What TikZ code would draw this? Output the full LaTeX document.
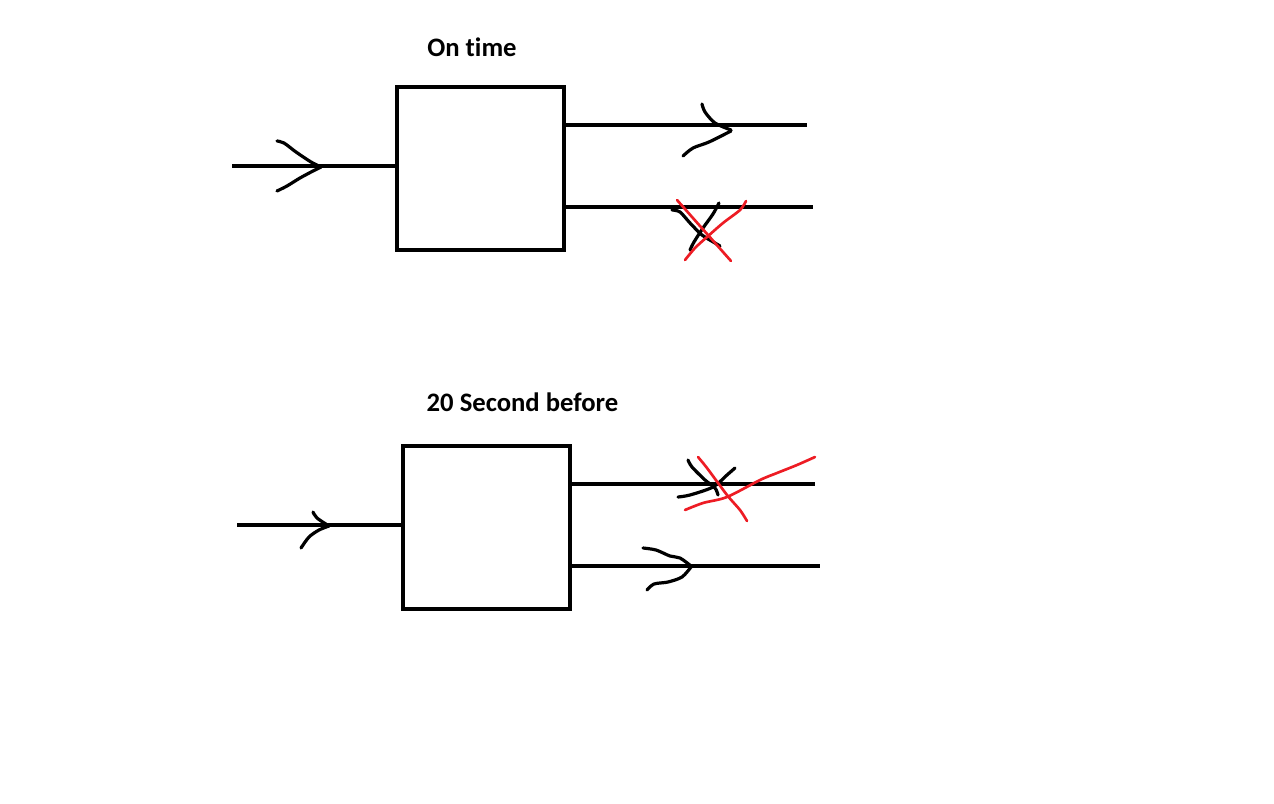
\documentclass[tikz,border=0pt]{standalone}
\usepackage{fontspec}
\setmainfont{Carlito}[Ligatures=NoCommon]
\definecolor{paintred}{RGB}{237,28,36}
\begin{document}
\begin{tikzpicture}[x=0.75pt,y=-0.75pt,
  wire/.style={line width=3.4pt},
  boxst/.style={draw, line width=3.4pt, minimum width=125.25pt, minimum height=122.25pt, inner sep=0pt, outer sep=0pt},
  chev/.style={line width=2.4pt, line cap=round, line join=round},
  cross/.style={paintred, line width=2pt, line cap=round, line join=round},
  title/.style={font=\bfseries\fontsize{20}{24}\selectfont, anchor=base, inner sep=0pt}]
\useasboundingbox (0,0) rectangle (1274,803);
% ---------- top diagram ----------
\node[title] (t1) at (472,56.5) {On time};
\node[boxst] (b1) at (480.5,168.5) {};
\coordinate (i1) at (232,166);
\coordinate (o1a) at (807,125);
\coordinate (o1b) at (813,207);
\draw[wire] (i1) -- (i1 -| b1.west);
\draw[wire] (o1a -| b1.east) -- (o1a);
\draw[wire] (o1b -| b1.east) -- (o1b);
% input chevron
\draw[chev] plot[smooth] coordinates {(277,141) (284,143) (296,152) (311,162) (321,167)};
\draw[chev] plot[smooth] coordinates {(277,191) (287,186) (300,178) (313,171) (321,167)};
% output 1 chevron
\draw[chev] plot[smooth] coordinates {(702,104) (705,112) (715,123) (731,130)};
\draw[chev] plot[smooth] coordinates {(683,156) (693,148) (709,142) (731,131)};
% output 2 crossed chevron
\draw[chev] plot[smooth] coordinates {(672,210) (680,212) (690,223) (702,235) (715,243) (720,246)};
\draw[chev] plot[smooth] coordinates {(719,203) (713,214) (703,228) (694,242) (690,250)};
\draw[cross] plot[smooth] coordinates {(677,200) (700,226) (731,261)};
\draw[cross] plot[smooth] coordinates {(746,201) (740,210) (723,223) (707,237) (695,248) (685,260)};
% ---------- bottom diagram ----------
\node[title] (t2) at (522.5,411.5) {20 Second before};
\node[boxst] (b2) at (486.5,527.5) {};
\coordinate (i2) at (237,525);
\coordinate (o2a) at (815,484);
\coordinate (o2b) at (820,566);
\draw[wire] (i2) -- (i2 -| b2.west);
\draw[wire] (o2a -| b2.east) -- (o2a);
\draw[wire] (o2b -| b2.east) -- (o2b);
% input chevron
\draw[chev] plot[smooth] coordinates {(313,512) (317,518) (329,526)};
\draw[chev] plot[smooth] coordinates {(301,548) (309,537) (319,530) (329,526)};
% output 1 crossed chevron
\draw[chev] plot[smooth] coordinates {(688,460) (692,467) (705,480) (715,488) (718,495)};
\draw[chev] plot[smooth] coordinates {(678,497) (690,495) (713,487) (727,475) (735,468)};
\draw[cross] plot[smooth] coordinates {(698,457) (707,468) (727,495) (740,510) (747,521)};
\draw[cross] plot[smooth] coordinates {(685,510) (703,503) (727,497) (760,480) (777,473) (797,465) (815,457)};
% output 2 chevron
\draw[chev] plot[smooth] coordinates {(643,548) (656,550) (670,556) (680,558) (691,566)};
\draw[chev] plot[smooth] coordinates {(647,590) (654,584) (668,582) (682,577) (691,567)};
\end{tikzpicture}
\end{document}
